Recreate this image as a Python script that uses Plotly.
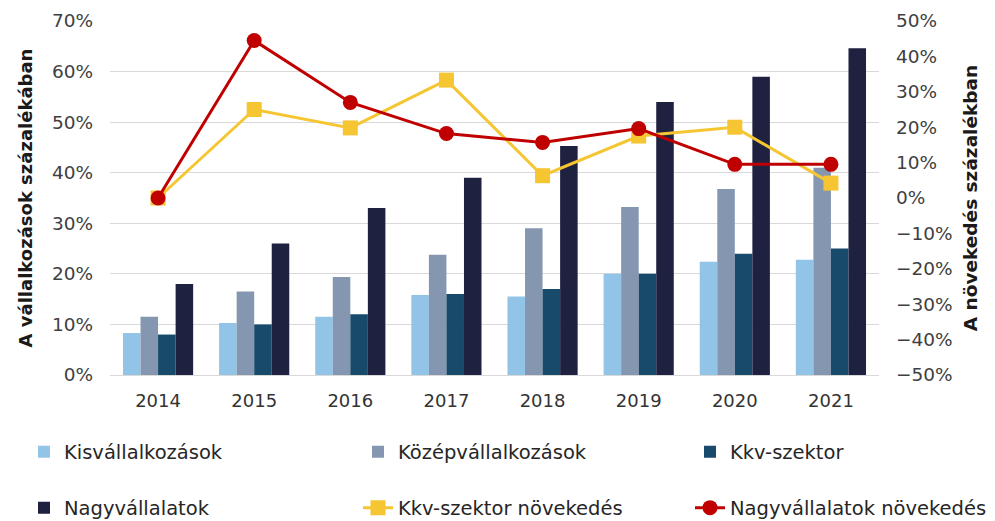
import plotly.graph_objects as go

years = ["2014", "2015", "2016", "2017", "2018", "2019", "2020", "2021"]

# share of enterprises (%)
kis = [8.3, 10.3, 11.5, 15.8, 15.5, 20.0, 22.4, 22.8]
kozep = [11.5, 16.5, 19.4, 23.8, 29.0, 33.2, 36.8, 41.0]
kkv = [8.0, 10.0, 12.0, 16.0, 17.0, 20.0, 24.0, 25.0]
nagy = [18.0, 26.0, 33.0, 39.0, 45.3, 54.0, 59.0, 64.6]

# growth (%)
kkv_growth = [0.0, 25.0, 19.8, 33.3, 6.3, 17.5, 20.0, 4.2]
nagy_growth = [0.0, 44.5, 27.0, 18.2, 15.7, 19.6, 9.5, 9.5]

font = "DejaVu Sans"
txt = "#404040"
W, H = 995, 521

fig = go.Figure()

bars = [
    ("Kisvállalkozások", kis, "#92C4E8", "legend"),
    ("Középvállalkozások", kozep, "#8597B0", "legend2"),
    ("Kkv-szektor", kkv, "#174A6B", "legend3"),
    ("Nagyvállalatok", nagy, "#1F2140", "legend4"),
]
for name, vals, col, lg in bars:
    fig.add_trace(go.Bar(x=years, y=vals, name=name, marker_color=col,
                         marker_line_width=0, legend=lg, showlegend=True))

fig.add_trace(go.Scatter(x=years, y=kkv_growth, name="Kkv-szektor növekedés",
                         mode="lines+markers", yaxis="y2", legend="legend5",
                         line=dict(color="#F5C632", width=3),
                         marker=dict(symbol="square", size=15, color="#F5C632")))
fig.add_trace(go.Scatter(x=years, y=nagy_growth, name="Nagyvállalatok növekedés",
                         mode="lines+markers", yaxis="y2", legend="legend6",
                         line=dict(color="#C00000", width=3),
                         marker=dict(symbol="circle", size=15, color="#C00000")))


def leg(x_px, y_px):
    # one legend entry placed in figure pixels
    return dict(orientation="h", x=x_px / W, y=(H - y_px) / H,
                xanchor="left", yanchor="middle",
                xref="container", yref="container",
                font=dict(family=font, size=19.5, color="#262626"),
                bgcolor="rgba(0,0,0,0)")


fig.update_layout(
    width=W, height=H, showlegend=True,
    margin=dict(l=102, r=124, t=13, b=154, autoexpand=False),
    paper_bgcolor="white", plot_bgcolor="white",
    font=dict(family=font, size=18, color=txt),
    barmode="group", bargap=0.27, bargroupgap=0,
    xaxis=dict(showline=True, linecolor="#d9d9d9", linewidth=1,
               tickfont=dict(size=18, color="#333333"), ticks="",
               ticklabelstandoff=9, automargin=False),
    yaxis=dict(range=[0, 70], dtick=10, ticksuffix="%", automargin=False,
               gridcolor="#d9d9d9", gridwidth=1, zeroline=False,
               tickfont=dict(size=18.5, color=txt), ticklabelstandoff=16,
               title=dict(text="<b>A vállalkozások százalékában</b>",
                          font=dict(size=18, color="#1a1a1a"), standoff=14)),
    yaxis2=dict(range=[-50, 50], dtick=10, ticksuffix="%", overlaying="y",
                side="right", showgrid=False, zeroline=False, automargin=False,
                tickfont=dict(size=18.5, color=txt), ticklabelstandoff=16,
                title=dict(text="<b>A növekedés százalékban</b>",
                           font=dict(size=18.5, color="#1a1a1a"), standoff=12)),
    legend=leg(16, 444),
    legend2=leg(350, 444),
    legend3=leg(682, 444),
    legend4=leg(16, 500),
    legend5=leg(350, 500),
    legend6=leg(682, 500),
)

fig.write_html("out.html")
